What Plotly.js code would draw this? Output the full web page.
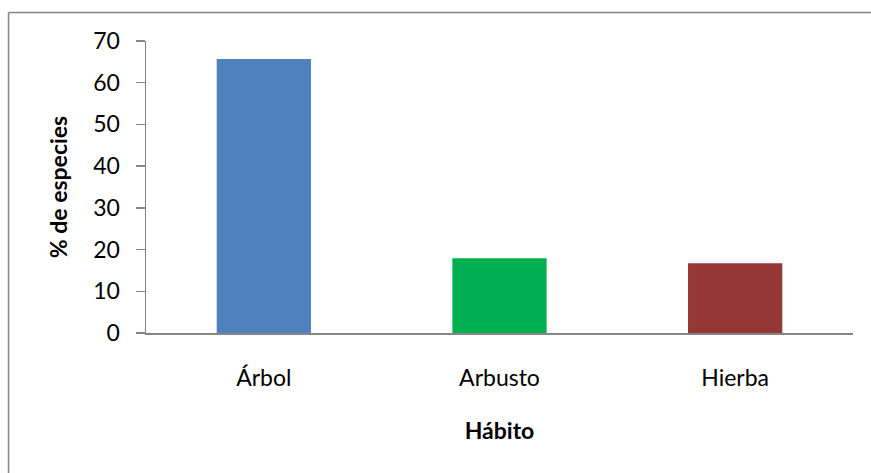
<!DOCTYPE html>
<html>
<head>
<meta charset="utf-8">
<script src="https://cdn.plot.ly/plotly-3.0.1.min.js"></script>
<style>html,body{margin:0;padding:0;background:#fff;}</style>
</head>
<body>
<div id="chart" style="width:871px;height:473px;"></div>
<script>
const categories = ["Árbol", "Arbusto", "Hierba"];
const values = [65.7, 17.9, 16.7];
const barColors = ["#4F81BD", "#00B050", "#953735"];
const yTicks = [0, 10, 20, 30, 40, 50, 60, 70];

const W = 871, H = 473;
const m = {l: 146, r: 18, t: 41, b: 140};
const pw = W - m.l - m.r, ph = H - m.t - m.b;
const px = x => (x - m.l) / pw;
const py = y => (H - m.b - y) / ph;

const font = "Lato, 'Open Sans', sans-serif";
const frame = {color: "#868686", width: 1.5};

Plotly.newPlot("chart", [{
  type: "bar",
  x: categories,
  y: values,
  marker: {color: barColors},
  width: 0.4,
  hoverinfo: "none"
}], {
  width: W, height: H,
  margin: m,
  paper_bgcolor: "#fff",
  plot_bgcolor: "#fff",
  showlegend: false,
  font: {family: font, size: 23, color: "#000"},
  xaxis: {
    showline: true, linecolor: "#868686", linewidth: 1.5,
    ticks: "", showgrid: false, zeroline: false,
    ticklabelstandoff: 24,
    tickfont: {family: font, size: 23, color: "#000"},
    title: {text: "<b>Hábito</b>", font: {family: font, size: 23, color: "#000"}, standoff: 33}
  },
  yaxis: {
    range: [0, 70], tickvals: yTicks, ticktext: yTicks.map(String),
    showline: true, linecolor: "#868686", linewidth: 1.5,
    ticks: "outside", ticklen: 9, tickcolor: "#868686", tickwidth: 1.5,
    showgrid: false, zeroline: false,
    ticklabelstandoff: 11,
    tickfont: {family: font, size: 23, color: "#000"},
    title: {text: "<b>% de especies</b>", font: {family: font, size: 23, color: "#000"}, standoff: 19}
  },
  shapes: [
    {type: "line", xref: "paper", yref: "paper", x0: px(8.5), x1: px(871), y0: py(12.5), y1: py(12.5), line: frame},
    {type: "line", xref: "paper", yref: "paper", x0: px(8.5), x1: px(8.5), y0: py(12.5), y1: py(473), line: frame}
  ]
}, {staticPlot: true, displayModeBar: false});
</script>
</body>
</html>
